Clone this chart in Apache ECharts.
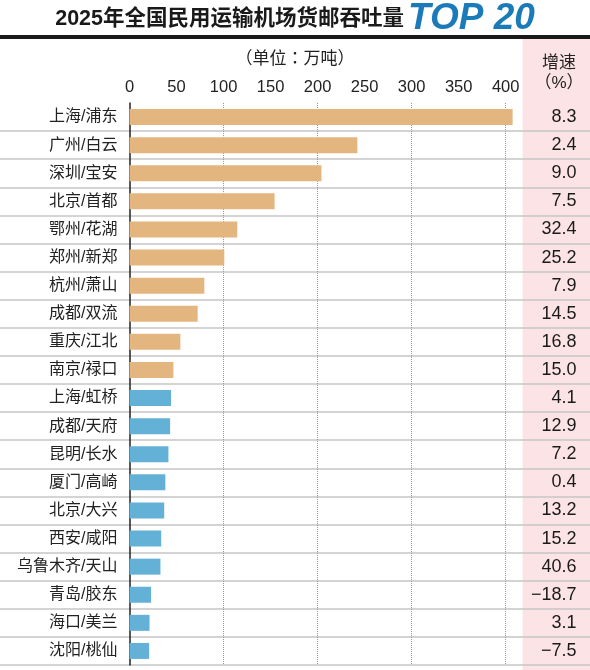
<!DOCTYPE html>
<html>
<head>
<meta charset="utf-8">
<script src="https://cdn.jsdelivr.net/npm/echarts@6/dist/echarts.min.js"></script>
<style>
  html, body { margin: 0; padding: 0; background: #fff; }
  #main { width: 590px; height: 670px; }
</style>
</head>
<body>
<div id="main"></div>
<script>
// 2025 cargo & mail throughput, top 20 airports (10k tonnes)
const airports = ['上海/浦东', '广州/白云', '深圳/宝安', '北京/首都', '鄂州/花湖', '郑州/新郑', '杭州/萧山', '成都/双流', '重庆/江北', '南京/禄口',
  '上海/虹桥', '成都/天府', '昆明/长水', '厦门/高崎', '北京/大兴', '西安/咸阳', '乌鲁木齐/天山', '青岛/胶东', '海口/美兰', '沈阳/桃仙']
const cargo = [407.4, 242.3, 204.1, 154.3, 114.6, 100.8, 79.6, 72.5, 54.1, 46.7,
  44.2, 43.2, 41.4, 38.1, 36.9, 33.7, 32.9, 22.9, 21.3, 20.9]
const growth = [8.3, 2.4, 9.0, 7.5, 32.4, 25.2, 7.9, 14.5, 16.8, 15.0,
  4.1, 12.9, 7.2, 0.4, 13.2, 15.2, 40.6, -18.7, 3.1, -7.5]

const FONT = '"Liberation Sans", "Noto Sans CJK SC", sans-serif'
const FONT_TC = '"Liberation Sans", "Noto Sans CJK TC", sans-serif'

let chart = echarts.init(document.getElementById('main'))

chart.setOption({
  animation: false,
  backgroundColor: '#fff',
  title: {
    text: '{a|2025年全国民用运输机场货邮吞吐量}{b|TOP 20}',
    left: 'center',
    top: 2,
    padding: 0,
    textStyle: {
      rich: {
        a: { fontFamily: FONT, fontSize: 21.5, fontWeight: 'bold', color: '#1a1a1a', lineHeight: 34, verticalAlign: 'middle', padding: [0, 4, 0, 0] },
        b: { fontFamily: FONT, fontSize: 37, fontWeight: 'bold', fontStyle: 'italic', color: '#1a7bb8', lineHeight: 34, verticalAlign: 'middle' }
      }
    }
  },
  graphic: [
    { type: 'rect', z: -10, shape: { x: 522.6, y: 38, width: 68, height: 632 }, style: { fill: '#fce4e6' } },
    { type: 'rect', shape: { x: 0, y: 35, width: 590, height: 4 }, style: { fill: '#1a1a1a' } },
    { type: 'text', x: 295, y: 59, style: { text: '（单位：万吨）', font: '17px ' + FONT_TC, fill: '#222', align: 'center', verticalAlign: 'middle' } },
    { type: 'text', x: 559, y: 63, style: { text: '增速', font: '17px ' + FONT, fill: '#222', align: 'center', verticalAlign: 'middle' } },
    { type: 'text', x: 559, y: 83, style: { text: '（%）', font: '17px ' + FONT_TC, fill: '#222', align: 'center', verticalAlign: 'middle' } }
  ],
  grid: [
    { left: 129.5, right: 67.4, top: 103, bottom: 5 },
    { left: 0, right: 0, top: 103, bottom: 5 }
  ],
  xAxis: [
    {
      gridIndex: 0, type: 'value', position: 'top', min: 0, max: 418, interval: 50,
      axisLine: { show: false }, axisTick: { show: false }, splitLine: { show: false },
      axisLabel: {
        margin: 7, fontSize: 16.5, color: '#222', fontFamily: FONT,
        formatter: v => (v % 50 === 0 ? String(v) : '')
      }
    },
    {
      // dotted gridlines every 100
      gridIndex: 0, type: 'value', position: 'top', min: 0, max: 418, interval: 100,
      axisLine: { show: false }, axisTick: { show: false }, axisLabel: { show: false },
      splitLine: { show: true, showMinLine: false, showMaxLine: false, lineStyle: { type: 'dotted', color: '#999', width: 1 } }
    },
    { gridIndex: 1, type: 'value', show: false }
  ],
  yAxis: [
    {
      gridIndex: 0, type: 'category', inverse: true, data: airports,
      axisLine: { show: true, lineStyle: { color: '#222', width: 1.5 } },
      axisTick: { show: false },
      axisLabel: { margin: 12, fontSize: 16, color: '#222', fontFamily: FONT }
    },
    {
      gridIndex: 0, type: 'category', inverse: true, position: 'right', data: airports,
      axisLine: { show: false }, axisTick: { show: false },
      axisLabel: {
        margin: 54, align: 'right', fontSize: 18, color: '#1a1a1a', fontFamily: FONT,
        formatter: (v, i) => growth[i].toFixed(1).replace('-', '−')
      }
    },
    {
      // full-width row separators
      gridIndex: 1, type: 'category', inverse: true, data: airports,
      axisLine: { show: false }, axisTick: { show: false }, axisLabel: { show: false },
      splitLine: { show: true, showMinLine: false, lineStyle: { color: '#c6c6c6', width: 1.5 } }
    }
  ],
  series: [{
    type: 'bar',
    xAxisIndex: 0,
    yAxisIndex: 0,
    data: cargo,
    barWidth: 16,
    itemStyle: {
      color: p => (p.dataIndex < 10 ? '#e4b67f' : '#63b1d6')
    }
  }]
})
</script>
</body>
</html>
